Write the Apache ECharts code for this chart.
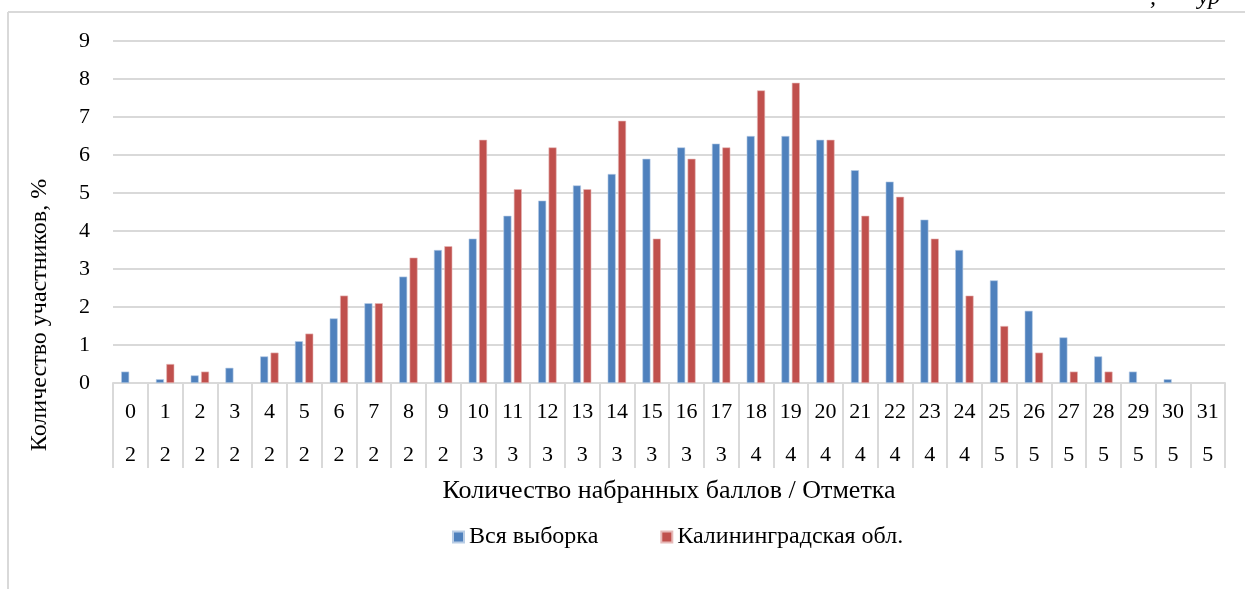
<!DOCTYPE html>
<html>
<head>
<meta charset="utf-8">
<script src="https://cdn.jsdelivr.net/npm/echarts@6/dist/echarts.min.js"></script>
<style>
  html, body { margin: 0; padding: 0; background: #fff; }
  #chart { width: 1245px; height: 589px; }
</style>
</head>
<body>
<div id="chart"></div>
<script>
// Score categories (first row of x labels) and marks (second row)
const scores = ['0','1','2','3','4','5','6','7','8','9','10','11','12','13','14','15',
                '16','17','18','19','20','21','22','23','24','25','26','27','28','29','30','31'];
const marks = ['2','2','2','2','2','2','2','2','2','2','3','3','3','3','3','3',
               '3','3','4','4','4','4','4','4','4','5','5','5','5','5','5','5'];

// Percent of participants
const allSample = [0.3, 0.1, 0.2, 0.4, 0.7, 1.1, 1.7, 2.1, 2.8, 3.5, 3.8, 4.4, 4.8, 5.2, 5.5, 5.9,
                   6.2, 6.3, 6.5, 6.5, 6.4, 5.6, 5.3, 4.3, 3.5, 2.7, 1.9, 1.2, 0.7, 0.3, 0.1, 0];
const kaliningrad = [0, 0.5, 0.3, 0, 0.8, 1.3, 2.3, 2.1, 3.3, 3.6, 6.4, 5.1, 6.2, 5.1, 6.9, 3.8,
                     5.9, 6.2, 7.7, 7.9, 6.4, 4.4, 4.9, 3.8, 2.3, 1.5, 0.8, 0.3, 0.3, 0, 0, 0];

const yTicks = [0, 1, 2, 3, 4, 5, 6, 7, 8, 9];

const font = '"Liberation Serif", "Times New Roman", serif';
const grey = '#d9d9d9';

// zero values draw no bar at all
const noZero = arr => arr.map(v => (v === 0 ? '-' : v));

const chart = echarts.init(document.getElementById('chart'));

const option = {
    animation: false,
    textStyle: { fontFamily: font, color: '#000' },
    grid: { left: 113, right: 20, top: 41, bottom: 206, containLabel: false },
    legend: {
        left: 447, top: 520,
        icon: 'rect', itemWidth: 11, itemHeight: 11, itemGap: 62,
        textStyle: { fontFamily: font, fontSize: 24, color: '#000' },
        data: ['Вся выборка', 'Калининградская обл.']
    },
    xAxis: [{
        type: 'category',
        data: scores,
        name: 'Количество набранных баллов / Отметка',
        nameLocation: 'middle',
        nameGap: 95,
        nameTextStyle: { fontFamily: font, fontSize: 26, color: '#000' },
        axisLine: { lineStyle: { color: grey, width: 2 } },
        axisTick: { show: true, length: 85, interval: 0, lineStyle: { color: grey, width: 2 } },
        axisLabel: { interval: 0, margin: 18, fontFamily: font, fontSize: 22, color: '#000' }
    }, {
        type: 'category',
        data: scores,
        position: 'bottom',
        axisLine: { show: false },
        axisTick: { show: false },
        axisLabel: {
            interval: 0, margin: 61, fontFamily: font, fontSize: 22, color: '#000',
            formatter: (v, i) => marks[i]
        }
    }],
    yAxis: {
        type: 'value',
        min: 0, max: 9, interval: 1,
        axisLine: { show: false },
        axisTick: { show: false },
        axisLabel: {
            margin: 23, fontFamily: font, fontSize: 22, color: '#000',
            formatter: v => (yTicks.includes(v) ? String(v) : '')
        },
        splitLine: { lineStyle: { color: grey, width: 2 } }
    },
    series: [{
        name: 'Вся выборка',
        type: 'bar',
        data: noZero(allSample),
        barWidth: 8,
        barGap: '30%',
        itemStyle: { color: '#4f81bd', borderColor: '#b9cde5', borderWidth: 0.6 }
    }, {
        name: 'Калининградская обл.',
        type: 'bar',
        data: noZero(kaliningrad),
        barWidth: 8,
        itemStyle: { color: '#c0504d', borderColor: '#e6b9b8', borderWidth: 0.6 }
    }],
    graphic: [
        // outer chart frame (left and top edges visible)
        { type: 'line', shape: { x1: 8, y1: 12, x2: 1245, y2: 12 }, style: { stroke: grey, lineWidth: 2 } },
        { type: 'line', shape: { x1: 8, y1: 12, x2: 8, y2: 589 }, style: { stroke: grey, lineWidth: 2 } },
        // y axis name
        {
            type: 'text', x: 40, y: 315, rotation: Math.PI / 2,
            style: {
                text: 'Количество участников, %', font: '24px ' + font,
                fill: '#000', align: 'center', verticalAlign: 'middle'
            }
        },
        // clipped caption above the frame
        {
            type: 'text', x: 1150, y: -14,
            style: { text: ',       ур', font: 'italic 24px ' + font, fill: '#000' }
        }
    ]
};

chart.setOption(option);
</script>
</body>
</html>
